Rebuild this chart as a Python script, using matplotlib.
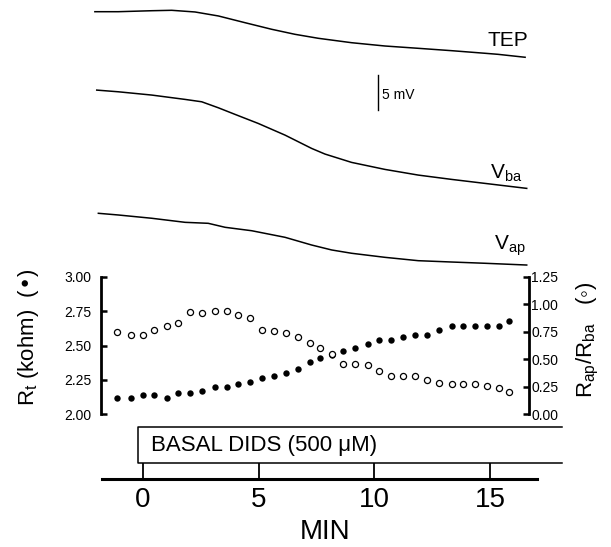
import matplotlib
matplotlib.use('Agg')
import matplotlib.pyplot as plt

plt.rcParams['font.family'] = ['Liberation Sans', 'DejaVu Sans']
plt.rcParams['mathtext.default'] = 'regular'

# voltage traces (mV, relative to start of each trace)
tep_t = [-2.08, -1.07, 0.38, 1.24, 2.25, 3.26, 4.41, 5.56, 6.57, 7.58, 9.02, 10.46, 11.90, 13.35, 14.79, 15.35, 16.52]
tep = [0, 0, 0.14, 0.2, -0.04, -0.61, -1.57, -2.51, -3.23, -3.8, -4.43, -4.9, -5.23, -5.57, -5.94, -6.09, -6.51]

vba_t = [-2.00, -1.07, 0.38, 1.82, 2.54, 3.26, 3.98, 4.98, 6.14, 7.29, 7.87, 9.02, 10.46, 11.90, 13.35, 14.79, 16.59]
vba = [0, -0.24, -0.71, -1.33, -1.67, -2.53, -3.47, -4.76, -6.43, -8.33, -9.14, -10.33, -11.33, -12.14, -12.76, -13.33, -14.04]

vap_t = [-1.93, -1.07, 0.38, 1.82, 2.82, 3.55, 4.70, 6.14, 7.29, 8.16, 9.02, 10.46, 11.90, 13.35, 14.79, 16.59]
vap = [0, -0.24, -0.71, -1.29, -1.43, -2.0, -2.49, -3.43, -4.53, -5.24, -5.71, -6.29, -6.77, -6.96, -7.14, -7.39]

# resistances, sampled about every 30 s
t_r = [-1.11, -0.53, -0.01, 0.49, 1.02, 1.53, 2.03, 2.55, 3.11, 3.62, 4.11, 4.63, 5.16, 5.68, 6.18, 6.69, 7.22,
       7.67, 8.18, 8.66, 9.17, 9.71, 10.20, 10.72, 11.25, 11.76, 12.27, 12.81, 13.35, 13.85, 14.35, 14.86, 15.39, 15.84]
rt = [2.12, 2.12, 2.14, 2.14, 2.12, 2.15, 2.15, 2.17, 2.20, 2.20, 2.22, 2.23, 2.26, 2.28, 2.30, 2.33, 2.38,
      2.41, 2.43, 2.46, 2.48, 2.51, 2.54, 2.54, 2.56, 2.58, 2.58, 2.61, 2.64, 2.64, 2.64, 2.64, 2.64, 2.68]
ratio = [0.75, 0.72, 0.72, 0.77, 0.80, 0.83, 0.93, 0.92, 0.94, 0.94, 0.90, 0.88, 0.77, 0.76, 0.74, 0.70, 0.65,
         0.60, 0.55, 0.46, 0.46, 0.45, 0.39, 0.35, 0.35, 0.35, 0.31, 0.28, 0.27, 0.27, 0.27, 0.26, 0.24, 0.20]

rt_ticks = [2.00, 2.25, 2.50, 2.75, 3.00]
ratio_ticks = [0.00, 0.25, 0.50, 0.75, 1.00, 1.25]
min_ticks = [0, 5, 10, 15]

# vertical offsets between the stacked traces (layout only)
off_tep, off_vba, off_vap = 0.0, -11.2, -28.8

W, H = 611, 547
fig = plt.figure(figsize=(W / 100, H / 100), dpi=100)

def box(x0, y0, x1, y1):
    # pixel box (top-left origin) -> figure fraction
    return [x0 / W, 1 - y1 / H, (x1 - x0) / W, (y1 - y0) / H]

px_per_min = 23.13
def tmin(px):
    return (px - 143) / px_per_min

# ---- traces ----
ax_tr = fig.add_axes(box(101, 0, 529, 277))
ax_tr.set_xlim(tmin(101), tmin(529))
ax_tr.set_ylim(-(277 - 11.7) / 7, 11.7 / 7)
ax_tr.axis('off')
lw = 1.1
ax_tr.plot(tep_t, [v + off_tep for v in tep], color='black', lw=lw, clip_on=False)
ax_tr.plot(vba_t, [v + off_vba for v in vba], color='black', lw=lw, clip_on=False)
ax_tr.plot(vap_t, [v + off_vap for v in vap], color='black', lw=lw, clip_on=False)
ax_tr.text(15.76, -4.1, 'TEP', fontsize=15, ha='center', va='center')
ax_tr.text(15.7, -23.1, 'V$_{ba}$', fontsize=15, ha='center', va='center')
ax_tr.text(15.85, -33.5, 'V$_{ap}$', fontsize=15, ha='center', va='center')
# 5 mV scale bar
ax_tr.plot([10.16, 10.16], [-9.1, -14.1], color='black', lw=1.0)
ax_tr.text(10.32, -11.9, '5 mV', fontsize=10, ha='left', va='center')

# ---- resistances ----
ax = fig.add_axes(box(101, 277, 529, 414))
ax.set_xlim(tmin(101), tmin(529))
ax.set_ylim(2.0, 3.0)
ax2 = ax.twinx()
ax2.set_ylim(0, 1.25)
ax.plot(t_r, rt, 'o', color='black', ms=4.6, mec='black', mew=0)
ax2.plot(t_r, ratio, 'o', mfc='white', mec='black', ms=4.4, mew=0.9)

for a in (ax, ax2):
    a.spines['top'].set_visible(False)
    a.spines['bottom'].set_visible(False)
    a.set_xticks([])
ax.spines['right'].set_visible(False)
ax2.spines['left'].set_visible(False)
ax.spines['left'].set_linewidth(2.0)
ax2.spines['right'].set_linewidth(2.0)
ax.set_yticks(rt_ticks)
ax.set_yticklabels(['%.2f' % v for v in rt_ticks])
ax2.set_yticks(ratio_ticks)
ax2.set_yticklabels(['%.2f' % v for v in ratio_ticks])
ax.tick_params(axis='y', direction='in', length=4, width=1.8, labelsize=10, pad=7)
ax2.tick_params(axis='y', direction='in', length=4, width=1.8, labelsize=10, pad=1.5)
ax.text(-0.17, 0.56, 'R$_t$ (kohm)  (•)', rotation=90, fontsize=16,
        ha='center', va='center', transform=ax.transAxes)
ax2.text(1.138, 0.54, 'R$_{ap}$/R$_{ba}$   (◦)', rotation=90, fontsize=16,
         ha='center', va='center', transform=ax2.transAxes)

# ---- time axis with DIDS bar ----
axt = fig.add_axes(box(101, 420, 537, 479))
axt.set_xlim(tmin(101), tmin(537))
axt.set_ylim(0, 1)
for s in ('top', 'left', 'right'):
    axt.spines[s].set_visible(False)
axt.spines['bottom'].set_linewidth(2.2)
axt.spines['bottom'].set_bounds(tmin(102), tmin(537))
axt.set_yticks([])
axt.set_xticks(min_ticks)
axt.tick_params(axis='x', direction='in', length=11.5, width=1.3, labelsize=20, pad=6)
axt.set_xlabel('MIN', fontsize=20)
axt.xaxis.set_label_coords((325 - 101) / 436, -0.68)

dids_start = -0.2
bx_top, bx_bot = (479 - 427.4) / 59, (479 - 462.7) / 59
axt.plot([tmin(562), dids_start, dids_start, tmin(562)], [bx_top, bx_top, bx_bot, bx_bot],
         color='black', lw=1.1, clip_on=False)
axt.text(dids_start + 0.55, (bx_top + bx_bot) / 2, 'BASAL DIDS (500 μM)', fontsize=16,
         ha='left', va='center')

fig.savefig('out.png', dpi=100)
